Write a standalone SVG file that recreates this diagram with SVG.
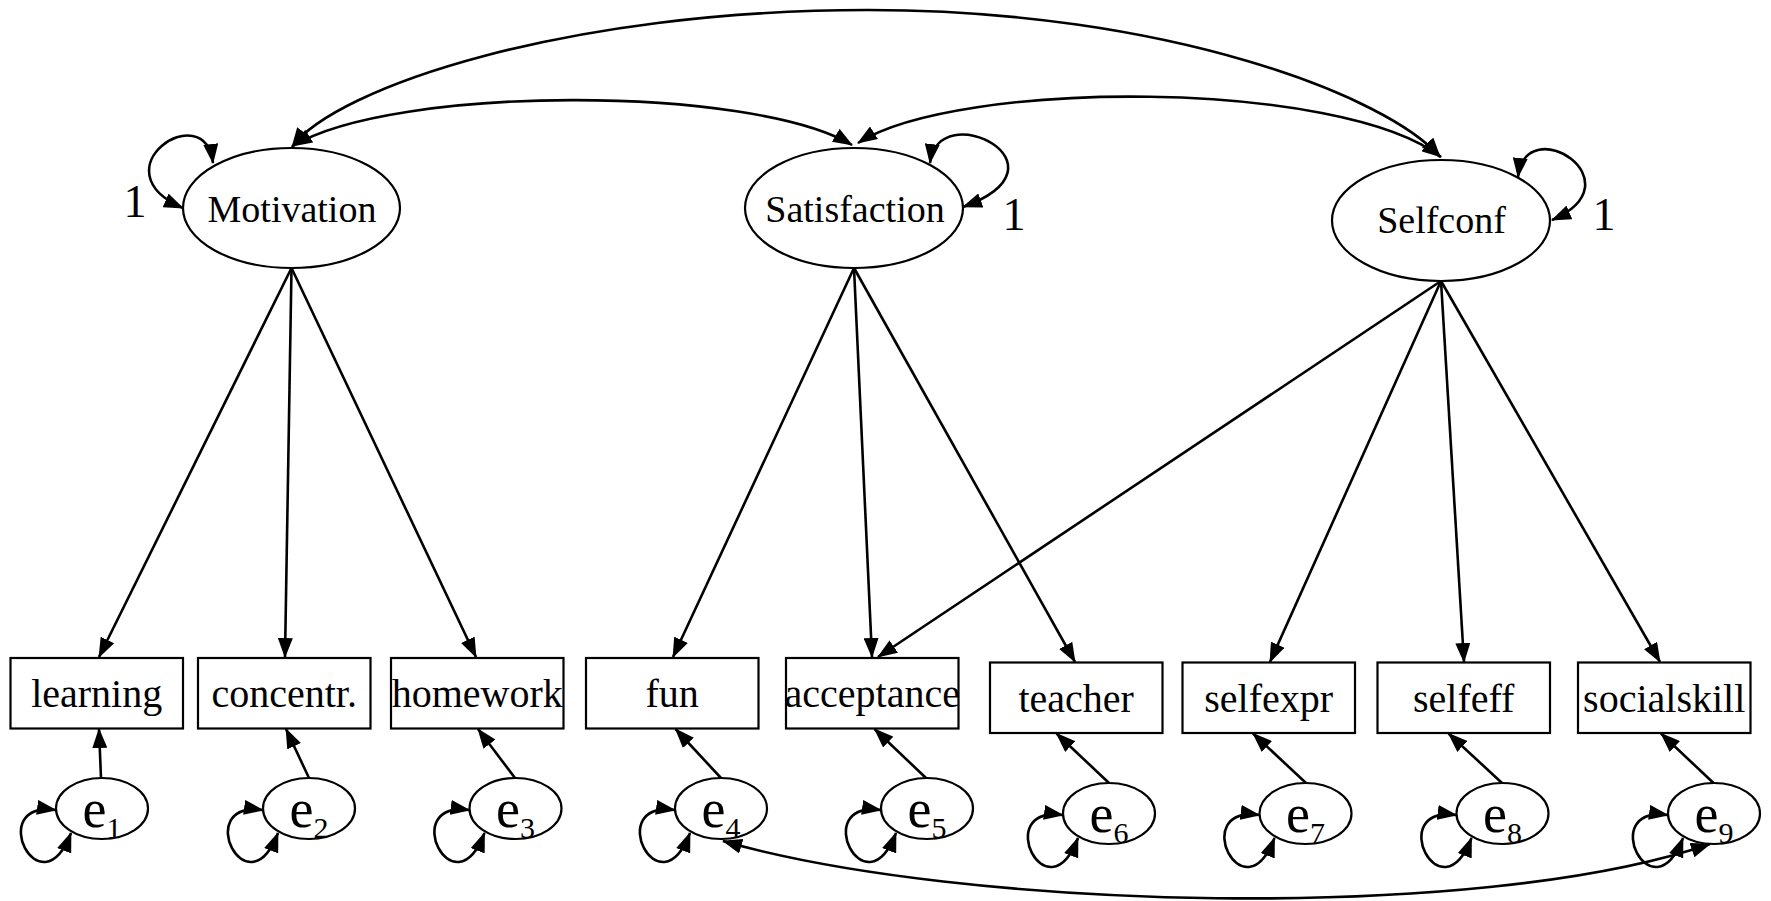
<svg xmlns="http://www.w3.org/2000/svg" width="1771" height="901" viewBox="0 0 1771 901">
<style>
.node{fill:#fff;stroke:#000;stroke-width:2.2}
.lat{font-family:"Liberation Serif","Times New Roman",serif;font-size:38px;fill:#000;text-anchor:middle}
.obs{font-family:"Liberation Serif","Times New Roman",serif;font-size:40px;fill:#000;text-anchor:middle}
.err{font-family:"Liberation Serif","Times New Roman",serif;font-size:54px;fill:#000;text-anchor:middle}
.one{font-family:"Liberation Serif","Times New Roman",serif;font-size:46px;fill:#000;text-anchor:middle}
.c{fill:none;stroke:#000;stroke-width:2.6}
.a{marker-end:url(#ah)}
.d{marker-start:url(#ah);marker-end:url(#ah)}
</style>
<defs>
<marker id="ah" viewBox="0 0 20 15" refX="19" refY="7.5" markerWidth="20" markerHeight="15" markerUnits="userSpaceOnUse" orient="auto-start-reverse">
<path d="M0,0 L20,7.5 L0,15 z" fill="#000"/>
</marker>
</defs>
<rect width="1771" height="901" fill="#fff"/>

<g id="connectors">
<!-- latent covariances -->
<path class="c d" d="M292,147 C336,87 568,10 868,10 C1168,10 1389,97 1440,157"/>
<path class="c d" d="M293,146 C393,85 752,85 852,145"/>
<path class="c d" d="M858,143 C958,79 1341,79 1441,157"/>
<!-- latent variances -->
<path class="c d" d="M213,163 C205,95 95,170 183,208"/>
<path class="c d" d="M930,163 C938,95 1078,165 963,207"/>
<path class="c d" d="M1518,177 C1526,109 1640,182 1552,220"/>
<!-- loadings -->
<path class="c a" d="M291.5,268 L99,657"/>
<path class="c a" d="M291.5,268 L285,657"/>
<path class="c a" d="M291.5,268 L476,657"/>
<path class="c a" d="M854,268 L673,657"/>
<path class="c a" d="M854,268 L872,657"/>
<path class="c a" d="M854,268 L1075,662"/>
<path class="c a" d="M1441,281 L878,657"/>
<path class="c a" d="M1441,281 L1270,662"/>
<path class="c a" d="M1441,281 L1464,662"/>
<path class="c a" d="M1441,281 L1660,662"/>
<!-- errors to indicators -->
<path class="c a" d="M101,778 L99,729"/>
<path class="c a" d="M309,778 L286,729"/>
<path class="c a" d="M515,778 L478,729"/>
<path class="c a" d="M721,778 L675.5,729"/>
<path class="c a" d="M926,778 L874.5,729"/>
<path class="c a" d="M1109,783 L1056.5,733.5"/>
<path class="c a" d="M1306,783 L1253,733.5"/>
<path class="c a" d="M1502,783 L1448.5,733.5"/>
<path class="c a" d="M1713.5,783 L1661,733.5"/>
<!-- error variances -->
<path class="c d" d="M56,810 C-16,800 40,913.5 71,833"/>
<path class="c d" d="M263,810 C191,800 247,913.5 278,833"/>
<path class="c d" d="M469.5,810 C397.5,800 453.5,913.5 484.5,833"/>
<path class="c d" d="M675,810 C603,800 659,913.5 690,833"/>
<path class="c d" d="M881,810 C809,800 865,913.5 896,833"/>
<path class="c d" d="M1063,815 C991,805 1047,918.5 1078,838"/>
<path class="c d" d="M1259.5,815 C1187.5,805 1243.5,918.5 1274.5,838"/>
<path class="c d" d="M1456.5,815 C1384.5,805 1440.5,918.5 1471.5,838"/>
<path class="c d" d="M1668,815 C1596,805 1652,918.5 1683,838"/>
<!-- e4 - e9 covariance -->
<path class="c d" d="M723,841 C958,909 1475,924.5 1710,844"/>
</g>

<g id="Motivation">
<ellipse class="node" cx="291.5" cy="208" rx="108.5" ry="60"/>
<text class="lat" x="292" y="222">Motivation</text>
<text class="one" x="135" y="217">1</text>
</g>
<g id="Satisfaction">
<ellipse class="node" cx="854" cy="208" rx="109" ry="60"/>
<text class="lat" x="855" y="222">Satisfaction</text>
<text class="one" x="1014" y="230">1</text>
</g>
<g id="Selfconf">
<ellipse class="node" cx="1441" cy="220.5" rx="109" ry="60.5"/>
<text class="lat" x="1441.5" y="233">Selfconf</text>
<text class="one" x="1604" y="230">1</text>
</g>

<g id="learning"><rect class="node" x="10.5" y="658" width="172.5" height="70.5"/><text class="obs" x="96.7" y="706.7">learning</text></g>
<g id="concentr"><rect class="node" x="198" y="658" width="172.5" height="70.5"/><text class="obs" x="284.2" y="706.7">concentr.</text></g>
<g id="homework"><rect class="node" x="391" y="658" width="172.5" height="70.5"/><text class="obs" x="477.2" y="706.7">homework</text></g>
<g id="fun"><rect class="node" x="586" y="658" width="172.5" height="70.5"/><text class="obs" x="672.2" y="706.7">fun</text></g>
<g id="acceptance"><rect class="node" x="786" y="658" width="172.5" height="70.5"/><text class="obs" x="872.2" y="706.7">acceptance</text></g>
<g id="teacher"><rect class="node" x="990" y="662.5" width="172.5" height="70.5"/><text class="obs" x="1076.2" y="711.7">teacher</text></g>
<g id="selfexpr"><rect class="node" x="1182.5" y="662.5" width="172.5" height="70.5"/><text class="obs" x="1268.7" y="711.7">selfexpr</text></g>
<g id="selfeff"><rect class="node" x="1377.5" y="662.5" width="172.5" height="70.5"/><text class="obs" x="1463.7" y="711.7">selfeff</text></g>
<g id="socialskill"><rect class="node" x="1578" y="662.5" width="172.5" height="70.5"/><text class="obs" x="1664.2" y="711.7">socialskill</text></g>

<g id="e1"><ellipse class="node" cx="102" cy="808.5" rx="46" ry="30.5"/><text class="err" x="102" y="826.7">e<tspan font-size="30" dy="11.5">1</tspan></text></g>
<g id="e2"><ellipse class="node" cx="309" cy="808.5" rx="46" ry="30.5"/><text class="err" x="309" y="826.7">e<tspan font-size="30" dy="11.5">2</tspan></text></g>
<g id="e3"><ellipse class="node" cx="515.5" cy="808.5" rx="46" ry="30.5"/><text class="err" x="515.5" y="826.7">e<tspan font-size="30" dy="11.5">3</tspan></text></g>
<g id="e4"><ellipse class="node" cx="721" cy="808.5" rx="46" ry="30.5"/><text class="err" x="721" y="826.7">e<tspan font-size="30" dy="11.5">4</tspan></text></g>
<g id="e5"><ellipse class="node" cx="927" cy="808.5" rx="46" ry="30.5"/><text class="err" x="927" y="826.7">e<tspan font-size="30" dy="11.5">5</tspan></text></g>
<g id="e6"><ellipse class="node" cx="1109" cy="813.5" rx="46" ry="30.5"/><text class="err" x="1109" y="831.7">e<tspan font-size="30" dy="11.5">6</tspan></text></g>
<g id="e7"><ellipse class="node" cx="1305.5" cy="813.5" rx="46" ry="30.5"/><text class="err" x="1305.5" y="831.7">e<tspan font-size="30" dy="11.5">7</tspan></text></g>
<g id="e8"><ellipse class="node" cx="1502.5" cy="813.5" rx="46" ry="30.5"/><text class="err" x="1502.5" y="831.7">e<tspan font-size="30" dy="11.5">8</tspan></text></g>
<g id="e9"><ellipse class="node" cx="1714" cy="813.5" rx="46" ry="30.5"/><text class="err" x="1714" y="831.7">e<tspan font-size="30" dy="11.5">9</tspan></text></g>
</svg>
